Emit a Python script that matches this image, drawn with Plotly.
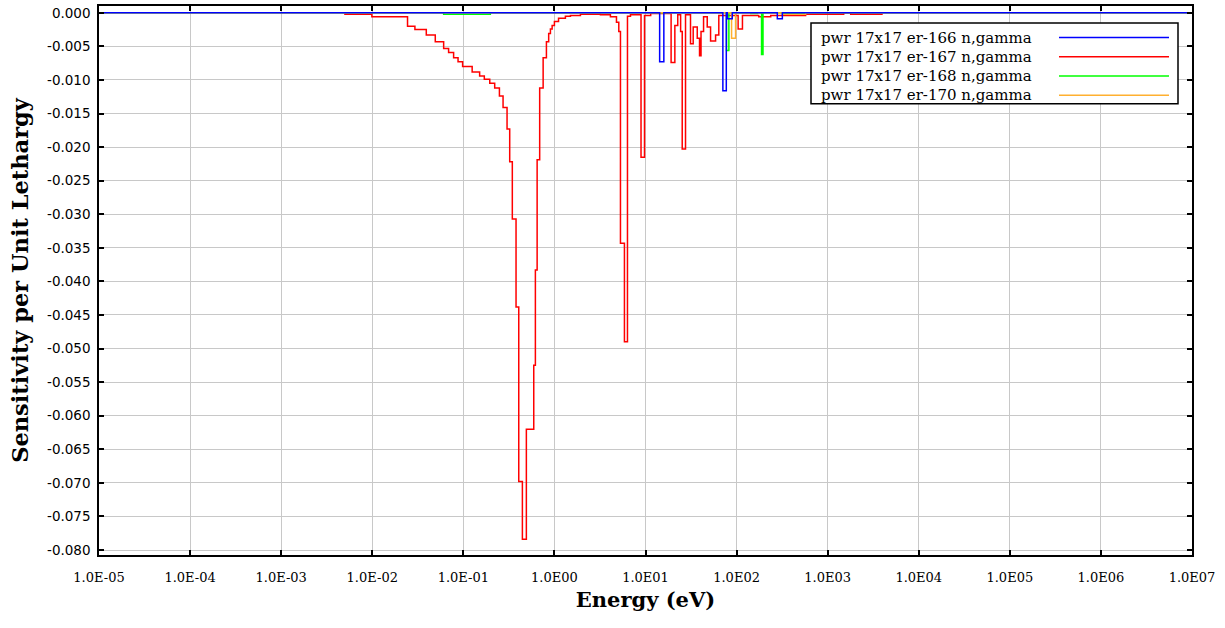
import plotly.graph_objects as go

# ---------------- data (energy group lower bounds in eV, sensitivity per unit lethargy) ----
series_names = ["pwr 17x17 er-166 n,gamma", "pwr 17x17 er-167 n,gamma",
                "pwr 17x17 er-168 n,gamma", "pwr 17x17 er-170 n,gamma"]
series_colors = ["#0000ff", "#ff0000", "#00ff00", "#ffb030"]

er166_E = [1e-5, 14.3, 15.9, 70.7, 77.1, 79.1, 89.7, 280, 318, 1e7]
er166_S = [0, -0.0073, 0, -0.0116, 0, -0.0009, 0, -0.0009, 0, 0]

er167_E = [0.00492, 0.0099, 0.0244, 0.0294, 0.0392, 0.0492, 0.0608, 0.0689, 0.0782, 0.0875,
           0.0982, 0.125, 0.151, 0.170, 0.195, 0.221, 0.249, 0.273, 0.302, 0.323,
           0.345, 0.379, 0.406, 0.445, 0.492, 0.593, 0.618, 0.646, 0.689, 0.752,
           0.817, 0.865, 0.904, 0.944, 1.0, 1.11, 1.32, 1.50, 1.93, 2.69,
           3.20, 4.12, 4.80, 5.09, 5.31, 5.87, 6.34, 6.84, 8.93, 9.75,
           11.4, 19.1, 21.0, 22.6, 24.3, 25.3, 27.5, 31.2, 33.4, 37.0,
           39.2, 40.7, 43.4, 47.6, 51.8, 58.8, 63.8, 104, 116, 175,
           237, 573, 1500, 1790, 4020]
er167_S = [-0.0002, -0.0006, -0.0020, -0.0025, -0.0033, -0.0043, -0.0053, -0.0059, -0.0067, -0.0073,
           -0.0080, -0.0088, -0.0094, -0.0099, -0.0105, -0.0112, -0.0124, -0.0141, -0.0173, -0.0222,
           -0.0307, -0.0438, -0.0698, -0.0784, -0.0620, -0.0525, -0.0383, -0.0219, -0.0112, -0.0067,
           -0.0043, -0.0031, -0.0024, -0.0019, -0.0013, -0.0008, -0.0005, -0.0004, -0.0002, -0.0002,
           -0.0003, -0.0006, -0.0014, -0.0028, -0.0343, -0.0490, -0.0005, -0.0003, -0.0215, -0.0004,
           -0.0001, -0.0074, -0.0019, -0.0003, -0.0028, -0.0203, -0.0003, -0.0046, -0.0021, -0.0038,
           -0.0064, -0.0028, -0.0006, -0.0021, -0.0042, -0.0033, -0.0004, -0.0024, -0.0004, -0.0006,
           -0.0004, -0.0002, 0.0, -0.0002, -0.0002]

er168_E = [1e-5, 0.0608, 0.198, 77.6, 82.3, 143, 169, 188, 195, 318, 573, 1e7]
er168_S = [0, -0.0002, 0, -0.0056, 0, -0.0001, 0, -0.0062, 0, -0.0001, 0, 0]

er170_E = [1e-5, 88.1, 97.5, 318, 573, 1e7]
er170_S = [0, -0.0038, 0, -0.0002, 0, 0]

x_tickvals = [1e-5, 1e-4, 1e-3, 1e-2, 1e-1, 1e0, 1e1, 1e2, 1e3, 1e4, 1e5, 1e6, 1e7]
x_ticktext = ["1.0E-05", "1.0E-04", "1.0E-03", "1.0E-02", "1.0E-01", "1.0E00", "1.0E01",
              "1.0E02", "1.0E03", "1.0E04", "1.0E05", "1.0E06", "1.0E07"]
y_tickvals = [0.0, -0.005, -0.010, -0.015, -0.020, -0.025, -0.030, -0.035, -0.040,
              -0.045, -0.050, -0.055, -0.060, -0.065, -0.070, -0.075, -0.080]
y_ticktext = ["0.000", "-0.005", "-0.010", "-0.015", "-0.020", "-0.025", "-0.030", "-0.035",
              "-0.040", "-0.045", "-0.050", "-0.055", "-0.060", "-0.065", "-0.070", "-0.075",
              "-0.080"]

x_title = "Energy (eV)"
y_title = "Sensitivity per Unit Lethargy"

# ---------------- figure ----------------
fig = go.Figure()
series = [(er166_E, er166_S), (er167_E, er167_S), (er168_E, er168_S), (er170_E, er170_S)]
draw_order = [1, 2, 3, 0]  # blue drawn last (on top)
for i in draw_order:
    ex, sv = series[i]
    fig.add_trace(go.Scatter(x=ex, y=sv, mode="lines", line_shape="hv",
                             line=dict(color=series_colors[i], width=1.5),
                             name=series_names[i], showlegend=False))

fig.update_layout(
    width=1225, height=628,
    margin=dict(l=99, r=33, t=4, b=73),
    paper_bgcolor="white", plot_bgcolor="white",
    showlegend=False,
)
fig.update_xaxes(
    type="log", range=[-5, 7],
    tickvals=x_tickvals, ticktext=x_ticktext,
    tickfont=dict(family="DejaVu Serif", size=13, color="black"),
    ticks="inside", ticklen=5, tickcolor="black", tickwidth=1.5,
    ticklabelstandoff=10,
    showgrid=True, gridcolor="#c8c8c8", gridwidth=1.3,
    showline=True, linecolor="black", linewidth=1.5, mirror="ticks",
    zeroline=False,
    title=dict(text=x_title, font=dict(family="DejaVu Serif", size=21, color="black",
                                       weight="bold"), standoff=8),
)
fig.update_yaxes(
    range=[-0.08074, 0.00101],
    tickvals=y_tickvals, ticktext=y_ticktext,
    tickfont=dict(family="DejaVu Sans", size=13.5, color="black"),
    ticks="inside", ticklen=5, tickcolor="black", tickwidth=1.5,
    ticklabelstandoff=4,
    showgrid=True, gridcolor="#c8c8c8", gridwidth=1.3,
    showline=True, linecolor="black", linewidth=1.5, mirror="ticks",
    zeroline=False,
    title=dict(text=y_title, font=dict(family="DejaVu Serif", size=22.5, color="black",
                                       weight="bold"), standoff=12),
)

# ---------------- legend (text left, line sample right) ----------------
PX_L, PX_R, PX_T, PX_B = 99, 1192, 4, 555
def px_x(p):
    return (p - PX_L) / (PX_R - PX_L)
def px_y(p):
    return (PX_B - p) / (PX_B - PX_T)

fig.add_shape(type="rect", xref="paper", yref="paper",
              x0=px_x(811), x1=px_x(1178), y0=px_y(102), y1=px_y(21),
              fillcolor="white", line=dict(color="black", width=1.5), layer="above")
row_y = [35.7, 55.0, 74.3, 93.7]
for i, name in enumerate(series_names):
    fig.add_annotation(xref="paper", yref="paper", x=px_x(819), y=px_y(row_y[i]),
                       text=name, showarrow=False, xanchor="left", yanchor="middle",
                       font=dict(family="DejaVu Serif", size=15, color="black"))
    fig.add_shape(type="line", xref="paper", yref="paper",
                  x0=px_x(1059), x1=px_x(1169), y0=px_y(row_y[i]), y1=px_y(row_y[i]),
                  line=dict(color=series_colors[i], width=1.5), layer="above")

fig.write_html("out.html")
